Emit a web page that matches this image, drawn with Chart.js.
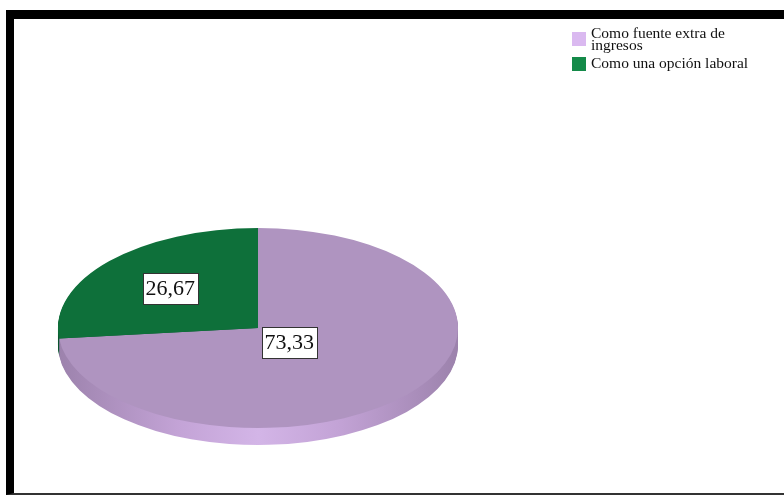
<!DOCTYPE html>
<html>
<head>
<meta charset="utf-8">
<script src="https://cdn.jsdelivr.net/npm/chart.js@4/dist/chart.umd.min.js"></script>
<style>
  html, body { margin: 0; padding: 0; background: #fff; }
  body { width: 784px; height: 495px; position: relative; overflow: hidden; }
  #frame {
    position: absolute; left: 6px; top: 10px; width: 790px; height: 485px;
    border-top: 9px solid #000; border-left: 8px solid #000; border-bottom: 2px solid #333;
    box-sizing: border-box;
  }
  #chart { position: absolute; left: 0; top: 0; }
  .item { position: absolute; left: 572px; padding-left: 19px; width: 170px;
          font-family: "Liberation Serif", "DejaVu Serif", serif; font-size: 15.5px; line-height: 11.5px; color: #111; }
  .box { position: absolute; left: 0; width: 14px; height: 14px; }
</style>
</head>
<body>
<div id="frame"></div>
<canvas id="chart" width="784" height="495"></canvas>
<script>
// data
const categories = ['Como fuente extra de ingresos', 'Como una opción laboral'];
const percentages = [73.33, 26.67];
const valueLabels = ['73,33', '26,67'];

const topColors = ['#af94c0', '#0e703a'];
const legendColors = ['#dab9f0', '#148a49'];
const sideColors = [null, '#0b5530'];

// legend (html, so text wraps like the original)
const legendTops = [27, 57];
const boxTops = [5, 0];
categories.forEach((cat, i) => {
    const item = document.createElement('div');
    item.className = 'item';
    item.style.top = legendTops[i] + 'px';
    const box = document.createElement('span');
    box.className = 'box';
    box.style.background = legendColors[i];
    box.style.top = boxTops[i] + 'px';
    item.appendChild(box);
    item.appendChild(document.createTextNode(cat));
    document.body.appendChild(item);
});

// squash the circle into an ellipse and give it some depth
const SX = 2, DEPTH = 17;
const pie3d = {
    id: 'pie3d',
    beforeDatasetsDraw(chart) {
        const ctx = chart.ctx;
        const arcs = chart.getDatasetMeta(0).data;
        const cx = arcs[0].x, cy = arcs[0].y, r = arcs[0].outerRadius;
        const grad = ctx.createLinearGradient(cx - r, 0, cx + r, 0);
        grad.addColorStop(0, '#9c82ac');
        grad.addColorStop(0.3, '#c3a3d6');
        grad.addColorStop(0.5, '#d3b5e7');
        grad.addColorStop(0.7, '#c3a3d6');
        grad.addColorStop(1, '#9c82ac');
        for (let d = DEPTH; d >= 1; d--) {
            ctx.save();
            ctx.translate(cx, cy + d);
            ctx.scale(SX, 1);
            ctx.translate(-cx, -cy);
            arcs.forEach((arc, i) => {
                const orig = arc.options.backgroundColor;
                arc.options.backgroundColor = sideColors[i] || grad;
                arc.draw(ctx);
                arc.options.backgroundColor = orig;
            });
            ctx.restore();
        }
    },
    beforeDatasetDraw(chart) {
        const ctx = chart.ctx;
        const arc = chart.getDatasetMeta(0).data[0];
        ctx.save();
        ctx.translate(arc.x, arc.y);
        ctx.scale(SX, 1);
        ctx.translate(-arc.x, -arc.y);
    },
    afterDatasetDraw(chart) {
        chart.ctx.restore();
    },
    afterDatasetsDraw(chart, args, opts) {
        const ctx = chart.ctx;
        const arcs = chart.getDatasetMeta(0).data;
        ctx.save();
        ctx.font = '22px "Liberation Serif", "DejaVu Serif", serif';
        ctx.textAlign = 'center';
        ctx.textBaseline = 'middle';
        arcs.forEach((arc, i) => {
            const mid = (arc.startAngle + arc.endAngle) / 2;
            const f = opts.labelRadius[i];
            const x = arc.x + Math.cos(mid) * arc.outerRadius * SX * f;
            const y = arc.y + Math.sin(mid) * arc.outerRadius * f;
            const w = ctx.measureText(valueLabels[i]).width + 5;
            const h = 31;
            ctx.fillStyle = '#fff';
            ctx.fillRect(Math.round(x - w / 2) + 0.5, Math.round(y - h / 2) + 0.5, Math.round(w), h);
            ctx.strokeStyle = '#333';
            ctx.lineWidth = 1;
            ctx.strokeRect(Math.round(x - w / 2) + 0.5, Math.round(y - h / 2) + 0.5, Math.round(w), h);
            ctx.fillStyle = '#111';
            ctx.fillText(valueLabels[i], x, y + 1);
        });
        ctx.restore();
    }
};

new Chart(document.querySelector('#chart').getContext('2d'), {
    type: 'pie',
    data: {
        labels: categories,
        datasets: [{
            data: percentages,
            backgroundColor: topColors,
            borderWidth: 0,
            hoverOffset: 0,
            offset: 0,
            clip: false
        }]
    },
    options: {
        responsive: false,
        animation: false,
        events: [],
        layout: { padding: { left: 158, right: 426, top: 228, bottom: 67 } },
        plugins: {
            legend: { display: false },
            tooltip: { enabled: false },
            pie3d: { labelRadius: [0.21, 0.59] }
        }
    },
    plugins: [pie3d]
});
</script>
</body>
</html>
